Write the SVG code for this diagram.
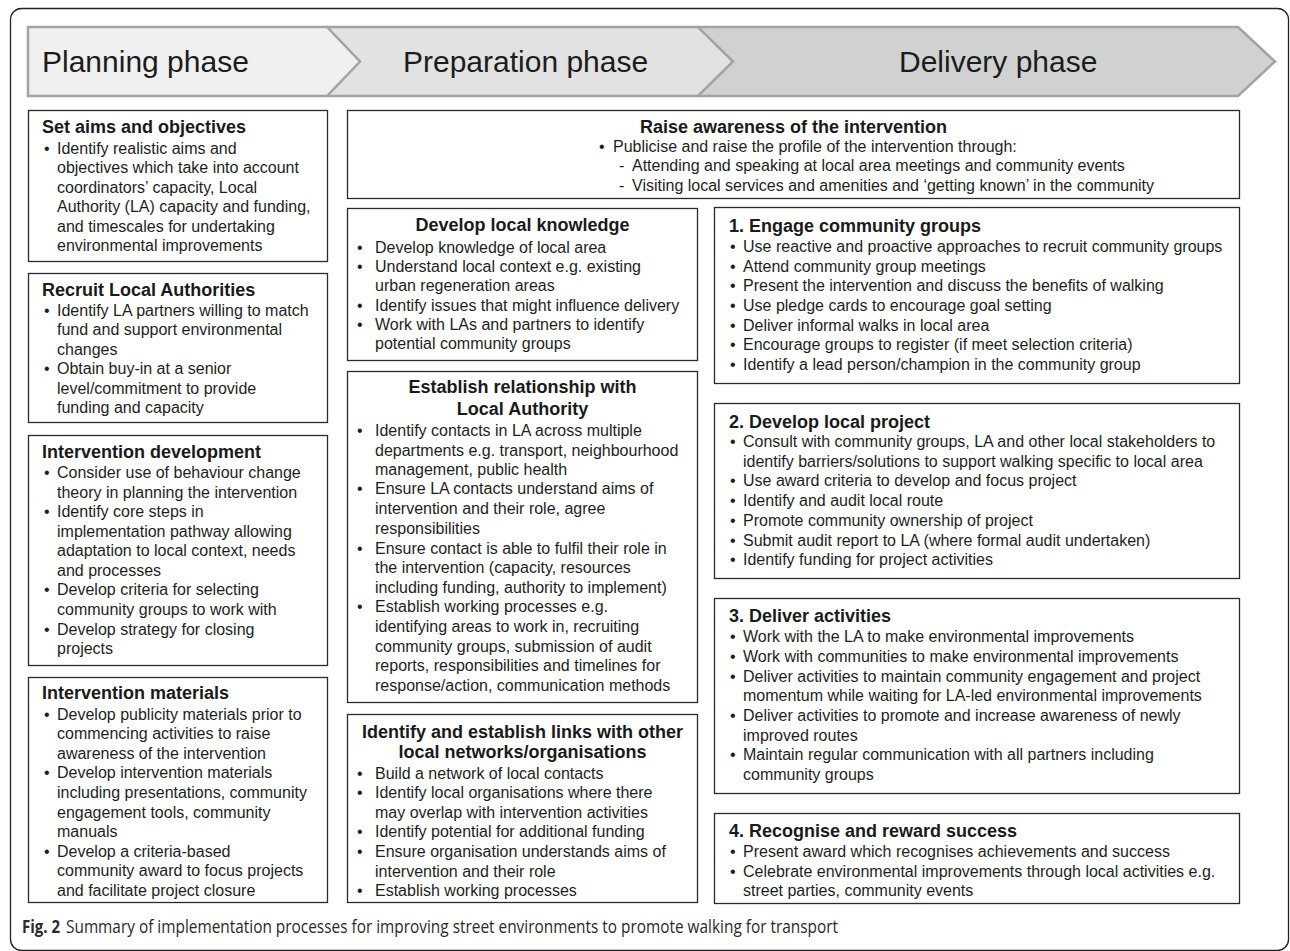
<svg xmlns="http://www.w3.org/2000/svg" width="1290" height="951" viewBox="0 0 1290 951">
<style>
  .frame{fill:#fff;stroke:#222;stroke-width:1.3}
  .box{fill:#fff;stroke:#2a2a2a;stroke-width:1.3}
  .phase{stroke:#a3a3a3;stroke-width:2.5;stroke-linejoin:miter}
  .ph{font-family:"Liberation Sans",Arial,sans-serif;font-size:30px;fill:#1c1c1c}
  .h{font-family:"Liberation Sans",Arial,sans-serif;font-size:18px;font-weight:bold;fill:#1a1a1a}
  .hc{font-family:"Liberation Sans",Arial,sans-serif;font-size:18px;font-weight:bold;fill:#1a1a1a;text-anchor:middle}
  .b{font-family:"Liberation Sans",Arial,sans-serif;font-size:16px;fill:#1e1e1e}
  .cap{font-family:"Open Sans","Liberation Sans",sans-serif;font-size:18px;fill:#2a2a2a}
</style>

<!-- outer frame -->
<rect class="frame" x="10.5" y="8.5" width="1278" height="942" rx="11"/>

<!-- phase banner (drawn right to left so each chevron overlaps the next) -->
<g id="phases">
  <polygon class="phase" fill="#d0d1d1" points="698,27 1238,27 1275,61.5 1238,96 698,96"/>
  <polygon class="phase" fill="#e2e2e2" points="327,27 698,27 733,61.5 698,96 327,96"/>
  <polygon class="phase" fill="#f0f0f0" points="28,27 327,27 360,61.5 327,96 28,96"/>
  <text class="ph" x="42" y="72">Planning phase</text>
  <text class="ph" x="403" y="72">Preparation phase</text>
  <text class="ph" x="899" y="72">Delivery phase</text>
</g>

<!-- Planning column -->
<g id="set-aims">
  <rect class="box" x="28.5" y="110.5" width="299" height="151"/>
  <text class="h" x="42" y="133">Set aims and objectives</text>
  <text class="b" y="154"><tspan x="44">•</tspan><tspan x="57">Identify realistic aims and</tspan></text>
  <text class="b" x="57" y="173">objectives which take into account</text>
  <text class="b" x="57" y="193">coordinators’ capacity, Local</text>
  <text class="b" x="57" y="212">Authority (LA) capacity and funding,</text>
  <text class="b" x="57" y="232">and timescales for undertaking</text>
  <text class="b" x="57" y="251">environmental improvements</text>
</g>

<g id="recruit-la">
  <rect class="box" x="28.5" y="273.5" width="299" height="149"/>
  <text class="h" x="42" y="296">Recruit Local Authorities</text>
  <text class="b" y="316"><tspan x="44">•</tspan><tspan x="57">Identify LA partners willing to match</tspan></text>
  <text class="b" x="57" y="335">fund and support environmental</text>
  <text class="b" x="57" y="355">changes</text>
  <text class="b" y="374"><tspan x="44">•</tspan><tspan x="57">Obtain buy-in at a senior</tspan></text>
  <text class="b" x="57" y="394">level/commitment to provide</text>
  <text class="b" x="57" y="413">funding and capacity</text>
</g>

<g id="intervention-development">
  <rect class="box" x="28.5" y="435.5" width="299" height="230"/>
  <text class="h" x="42" y="458">Intervention development</text>
  <text class="b" y="478"><tspan x="44">•</tspan><tspan x="57">Consider use of behaviour change</tspan></text>
  <text class="b" x="57" y="498">theory in planning the intervention</text>
  <text class="b" y="517"><tspan x="44">•</tspan><tspan x="57">Identify core steps in</tspan></text>
  <text class="b" x="57" y="537">implementation pathway allowing</text>
  <text class="b" x="57" y="556">adaptation to local context, needs</text>
  <text class="b" x="57" y="576">and processes</text>
  <text class="b" y="595"><tspan x="44">•</tspan><tspan x="57">Develop criteria for selecting</tspan></text>
  <text class="b" x="57" y="615">community groups to work with</text>
  <text class="b" y="635"><tspan x="44">•</tspan><tspan x="57">Develop strategy for closing</tspan></text>
  <text class="b" x="57" y="654">projects</text>
</g>

<g id="intervention-materials">
  <rect class="box" x="28.5" y="677.5" width="299" height="225"/>
  <text class="h" x="42" y="699">Intervention materials</text>
  <text class="b" y="720"><tspan x="44">•</tspan><tspan x="57">Develop publicity materials prior to</tspan></text>
  <text class="b" x="57" y="739">commencing activities to raise</text>
  <text class="b" x="57" y="759">awareness of the intervention</text>
  <text class="b" y="778"><tspan x="44">•</tspan><tspan x="57">Develop intervention materials</tspan></text>
  <text class="b" x="57" y="798">including presentations, community</text>
  <text class="b" x="57" y="818">engagement tools, community</text>
  <text class="b" x="57" y="837">manuals</text>
  <text class="b" y="857"><tspan x="44">•</tspan><tspan x="57">Develop a criteria-based</tspan></text>
  <text class="b" x="57" y="876">community award to focus projects</text>
  <text class="b" x="57" y="896">and facilitate project closure</text>
</g>

<!-- Preparation / delivery spanning box -->
<g id="raise-awareness">
  <rect class="box" x="347.5" y="110.5" width="892" height="88"/>
  <text class="hc" x="793.5" y="133">Raise awareness of the intervention</text>
  <text class="b" y="152"><tspan x="599">•</tspan><tspan x="613">Publicise and raise the profile of the intervention through:</tspan></text>
  <text class="b" y="171"><tspan x="619">-</tspan><tspan x="632">Attending and speaking at local area meetings and community events</tspan></text>
  <text class="b" y="191"><tspan x="619">-</tspan><tspan x="632">Visiting local services and amenities and ‘getting known’ in the community</tspan></text>
</g>

<!-- Preparation column -->
<g id="local-knowledge">
  <rect class="box" x="347.5" y="208.5" width="350" height="152"/>
  <text class="hc" x="522.5" y="231">Develop local knowledge</text>
  <text class="b" y="253"><tspan x="357">•</tspan><tspan x="375">Develop knowledge of local area</tspan></text>
  <text class="b" y="272"><tspan x="357">•</tspan><tspan x="375">Understand local context e.g. existing</tspan></text>
  <text class="b" x="375" y="291">urban regeneration areas</text>
  <text class="b" y="311"><tspan x="357">•</tspan><tspan x="375">Identify issues that might influence delivery</tspan></text>
  <text class="b" y="330"><tspan x="357">•</tspan><tspan x="375">Work with LAs and partners to identify</tspan></text>
  <text class="b" x="375" y="349">potential community groups</text>
</g>

<g id="la-relationship">
  <rect class="box" x="347.5" y="371.5" width="350" height="331"/>
  <text class="hc" x="522.5" y="393">Establish relationship with</text>
  <text class="hc" x="522.5" y="415">Local Authority</text>
  <text class="b" y="436"><tspan x="357">•</tspan><tspan x="375">Identify contacts in LA across multiple</tspan></text>
  <text class="b" x="375" y="456">departments e.g. transport, neighbourhood</text>
  <text class="b" x="375" y="475">management, public health</text>
  <text class="b" y="494"><tspan x="357">•</tspan><tspan x="375">Ensure LA contacts understand aims of</tspan></text>
  <text class="b" x="375" y="514">intervention and their role, agree</text>
  <text class="b" x="375" y="534">responsibilities</text>
  <text class="b" y="554"><tspan x="357">•</tspan><tspan x="375">Ensure contact is able to fulfil their role in</tspan></text>
  <text class="b" x="375" y="573">the intervention (capacity, resources</text>
  <text class="b" x="375" y="593">including funding, authority to implement)</text>
  <text class="b" y="612"><tspan x="357">•</tspan><tspan x="375">Establish working processes e.g.</tspan></text>
  <text class="b" x="375" y="632">identifying areas to work in, recruiting</text>
  <text class="b" x="375" y="652">community groups, submission of audit</text>
  <text class="b" x="375" y="671">reports, responsibilities and timelines for</text>
  <text class="b" x="375" y="691">response/action, communication methods</text>
</g>

<g id="local-networks">
  <rect class="box" x="347.5" y="714.5" width="350" height="188"/>
  <text class="hc" x="522.5" y="738">Identify and establish links with other</text>
  <text class="hc" x="522.5" y="758">local networks/organisations</text>
  <text class="b" y="779"><tspan x="357">•</tspan><tspan x="375">Build a network of local contacts</tspan></text>
  <text class="b" y="798"><tspan x="357">•</tspan><tspan x="375">Identify local organisations where there</tspan></text>
  <text class="b" x="375" y="818">may overlap with intervention activities</text>
  <text class="b" y="837"><tspan x="357">•</tspan><tspan x="375">Identify potential for additional funding</tspan></text>
  <text class="b" y="857"><tspan x="357">•</tspan><tspan x="375">Ensure organisation understands aims of</tspan></text>
  <text class="b" x="375" y="877">intervention and their role</text>
  <text class="b" y="896"><tspan x="357">•</tspan><tspan x="375">Establish working processes</tspan></text>
</g>

<!-- Delivery column -->
<g id="engage-groups">
  <rect class="box" x="714.5" y="207.5" width="525" height="176"/>
  <text class="h" x="729" y="232">1. Engage community groups</text>
  <text class="b" y="252"><tspan x="730">•</tspan><tspan x="743">Use reactive and proactive approaches to recruit community groups</tspan></text>
  <text class="b" y="272"><tspan x="730">•</tspan><tspan x="743">Attend community group meetings</tspan></text>
  <text class="b" y="291"><tspan x="730">•</tspan><tspan x="743">Present the intervention and discuss the benefits of walking</tspan></text>
  <text class="b" y="311"><tspan x="730">•</tspan><tspan x="743">Use pledge cards to encourage goal setting</tspan></text>
  <text class="b" y="331"><tspan x="730">•</tspan><tspan x="743">Deliver informal walks in local area</tspan></text>
  <text class="b" y="350"><tspan x="730">•</tspan><tspan x="743">Encourage groups to register (if meet selection criteria)</tspan></text>
  <text class="b" y="370"><tspan x="730">•</tspan><tspan x="743">Identify a lead person/champion in the community group</tspan></text>
</g>

<g id="local-project">
  <rect class="box" x="714.5" y="403.5" width="525" height="175"/>
  <text class="h" x="729" y="428">2. Develop local project</text>
  <text class="b" y="447"><tspan x="730">•</tspan><tspan x="743">Consult with community groups, LA and other local stakeholders to</tspan></text>
  <text class="b" x="743" y="467">identify barriers/solutions to support walking specific to local area</text>
  <text class="b" y="486"><tspan x="730">•</tspan><tspan x="743">Use award criteria to develop and focus project</tspan></text>
  <text class="b" y="506"><tspan x="730">•</tspan><tspan x="743">Identify and audit local route</tspan></text>
  <text class="b" y="526"><tspan x="730">•</tspan><tspan x="743">Promote community ownership of project</tspan></text>
  <text class="b" y="546"><tspan x="730">•</tspan><tspan x="743">Submit audit report to LA (where formal audit undertaken)</tspan></text>
  <text class="b" y="565"><tspan x="730">•</tspan><tspan x="743">Identify funding for project activities</tspan></text>
</g>

<g id="deliver-activities">
  <rect class="box" x="714.5" y="598.5" width="525" height="195"/>
  <text class="h" x="729" y="622">3. Deliver activities</text>
  <text class="b" y="642"><tspan x="730">•</tspan><tspan x="743">Work with the LA to make environmental improvements</tspan></text>
  <text class="b" y="662"><tspan x="730">•</tspan><tspan x="743">Work with communities to make environmental improvements</tspan></text>
  <text class="b" y="682"><tspan x="730">•</tspan><tspan x="743">Deliver activities to maintain community engagement and project</tspan></text>
  <text class="b" x="743" y="701">momentum while waiting for LA-led environmental improvements</text>
  <text class="b" y="721"><tspan x="730">•</tspan><tspan x="743">Deliver activities to promote and increase awareness of newly</tspan></text>
  <text class="b" x="743" y="741">improved routes</text>
  <text class="b" y="760"><tspan x="730">•</tspan><tspan x="743">Maintain regular communication with all partners including</tspan></text>
  <text class="b" x="743" y="780">community groups</text>
</g>

<g id="reward-success">
  <rect class="box" x="714.5" y="813.5" width="525" height="90"/>
  <text class="h" x="729" y="837">4. Recognise and reward success</text>
  <text class="b" y="857"><tspan x="730">•</tspan><tspan x="743">Present award which recognises achievements and success</tspan></text>
  <text class="b" y="877"><tspan x="730">•</tspan><tspan x="743">Celebrate environmental improvements through local activities e.g.</tspan></text>
  <text class="b" x="743" y="896">street parties, community events</text>
</g>

<!-- the diagram has no connectors -->
<g id="connectors"/>

<!-- figure caption -->
<g id="caption">
  <text class="cap" x="22" y="933" font-weight="bold" textLength="38" lengthAdjust="spacingAndGlyphs">Fig. 2</text>
  <text class="cap" x="66" y="933" textLength="772" lengthAdjust="spacingAndGlyphs">Summary of implementation processes for improving street environments to promote walking for transport</text>
</g>
</svg>
